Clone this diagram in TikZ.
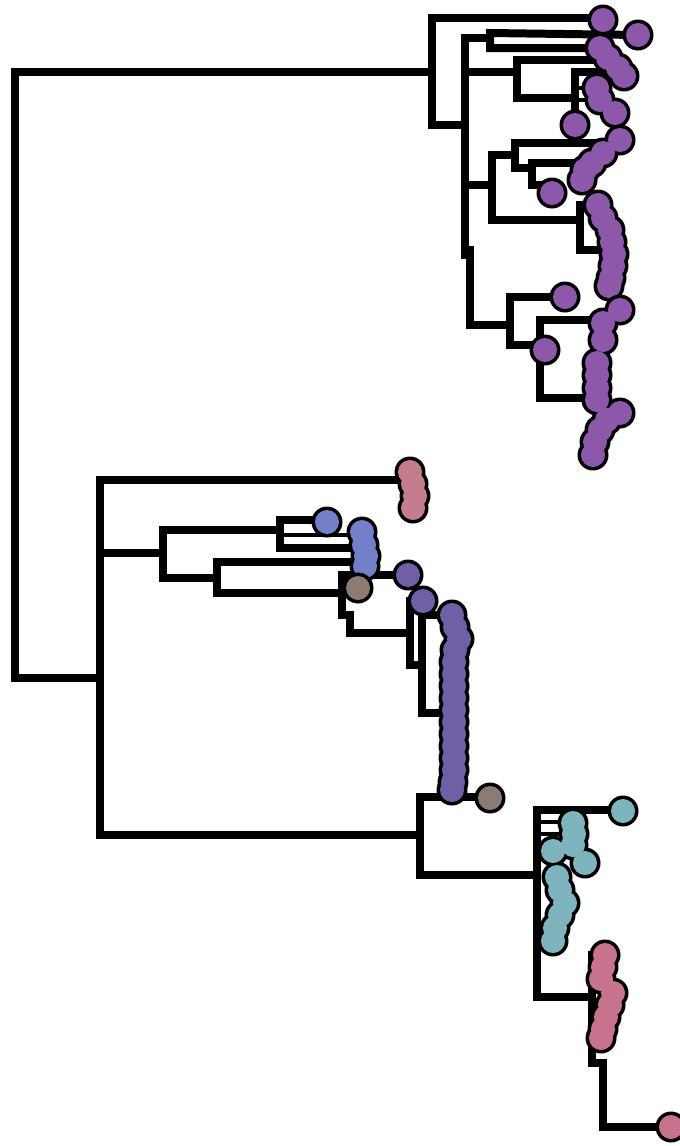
\documentclass[tikz,border=0pt]{standalone}
\usepackage{tikz}
\definecolor{cpurple}{RGB}{142,88,170}
\definecolor{cpinkA}{RGB}{196,125,140}
\definecolor{cblue}{RGB}{115,128,200}
\definecolor{cdark}{RGB}{112,95,165}
\definecolor{cgray}{RGB}{140,122,116}
\definecolor{cteal}{RGB}{125,180,190}
\definecolor{cpinkB}{RGB}{200,115,142}
\newcommand\drawtips[2]{%
  \foreach \p in {#2} {\fill[black] \p circle (15.5);}
  \foreach \p in {#2} {\fill[#1] \p circle (12);}
}
\begin{document}
\begin{tikzpicture}[x=1pt,y=-1pt,
  br/.style={line width=8pt,line cap=rect,line join=miter},
  thinbr/.style={line width=4.5pt,line cap=rect,line join=miter}]
\fill[white] (0,0) rectangle (680,1146);
\useasboundingbox (0,0) rectangle (680,1146);
% root
\draw[br] (432,72) -- (15,72) -- (15,678) -- (100,678);
% top clade
\draw[br] (603,18) -- (432,18) -- (432,125) -- (465,125);
\draw[br] (465,38) -- (465,255);
\draw[br] (470,250) -- (470,325);
\draw[br] (465,38) -- (490,38);
\draw[br] (638,35) -- (490,33) -- (490,48) -- (600,48);
\draw[br] (465,72) -- (517,72);
\draw[br] (612,60) -- (517,60) -- (517,98) -- (575,98);
\draw[br] (600,72) -- (575,72) -- (575,125);
\draw[thinbr] (575,88) -- (597,88);
\draw[thinbr] (580,100) -- (600,100);
\draw[br] (465,185) -- (492,185);
\draw[br] (492,155) -- (492,220);
\draw[br] (492,155) -- (515,155);
\draw[br] (620,143) -- (515,143) -- (515,168) -- (532,168);
\draw[br] (585,163) -- (532,163) -- (532,185) -- (552,185);
\draw[br] (492,220) -- (580,220);
\draw[br] (580,205) -- (580,250) -- (605,250);
\draw[br] (470,325) -- (510,325);
\draw[br] (565,297) -- (510,297) -- (510,345) -- (540,345);
\draw[br] (603,320) -- (540,320) -- (540,398) -- (597,398);
% bottom clade
\draw[br] (100,480) -- (100,835);
\draw[br] (100,480) -- (405,480);
\draw[br] (100,553) -- (163,553);
\draw[br] (163,530) -- (163,578);
\draw[br] (163,530) -- (280,530);
\draw[br] (325,520) -- (280,520) -- (280,548) -- (358,548);
\draw[thinbr] (286,535) -- (358,535);
\draw[br] (163,578) -- (217,578);
\draw[br] (360,562) -- (217,562) -- (217,593) -- (342,593);
\draw[br] (408,575) -- (342,575) -- (342,615) -- (350,615) -- (350,633) -- (410,633);
\draw[br] (423,601) -- (410,601) -- (410,665) -- (422,665);
\draw[br] (452,615) -- (422,615) -- (422,713) -- (445,713);
\draw[br] (100,835) -- (420,835);
\draw[br] (490,797) -- (420,797) -- (420,875) -- (537,875);
\draw[br] (622,810) -- (537,810) -- (537,997) -- (592,997);
\draw[thinbr] (540,822) -- (575,822);
\draw[thinbr] (540,834) -- (575,834);
\draw[br] (600,955) -- (592,955) -- (592,1063) -- (603,1063) -- (603,1127) -- (668,1127);
% tips
\drawtips{cpurple}{(603,20),(638,35),(600,48),(608,58),(618,68),(624,76),(597,88),(600,100),(615,113),(575,125),
  (620,140),(603,153),(592,163),(585,170),(582,180),(552,193),
  (598,205),(603,218),(610,230),(612,242),(614,254),(613,266),(611,278),(609,286)}
\drawtips{cpurple}{(565,297),(620,310),(603,323),(603,340),(545,350),
  (597,363),(597,375),(597,388),(597,400),(620,413),(607,420),(600,430),(595,442),(593,455)}
\drawtips{cpinkA}{(410,472),(413,484),(415,496),(413,508)}
\drawtips{cblue}{(327,522)}
\drawtips{cblue}{(362,532),(364,545),(366,556),(365,566)}
\drawtips{cgray}{(358,588)}
\drawtips{cdark}{(408,575),(423,601)}
\drawtips{cdark}{(452,615),(455,627),(459,639),(455,650),(454,662),(454,674),(454,686),(454,698),(454,710),(454,722),(454,734),(454,746),(454,758),(454,770),(453,782),(452,790)}
\drawtips{cgray}{(490,798)}
\drawtips{cteal}{(623,811),(573,823),(574,834),(573,845),(553,851),(585,863),(557,877),(560,890),(565,903),(560,915),(555,928),(553,941)}
\drawtips{cpinkB}{(605,955),(603,967),(601,979),(613,993),(610,1005),(606,1017),(603,1029),(601,1038)}
\drawtips{cpinkB}{(671,1127)}
\end{tikzpicture}
\end{document}
